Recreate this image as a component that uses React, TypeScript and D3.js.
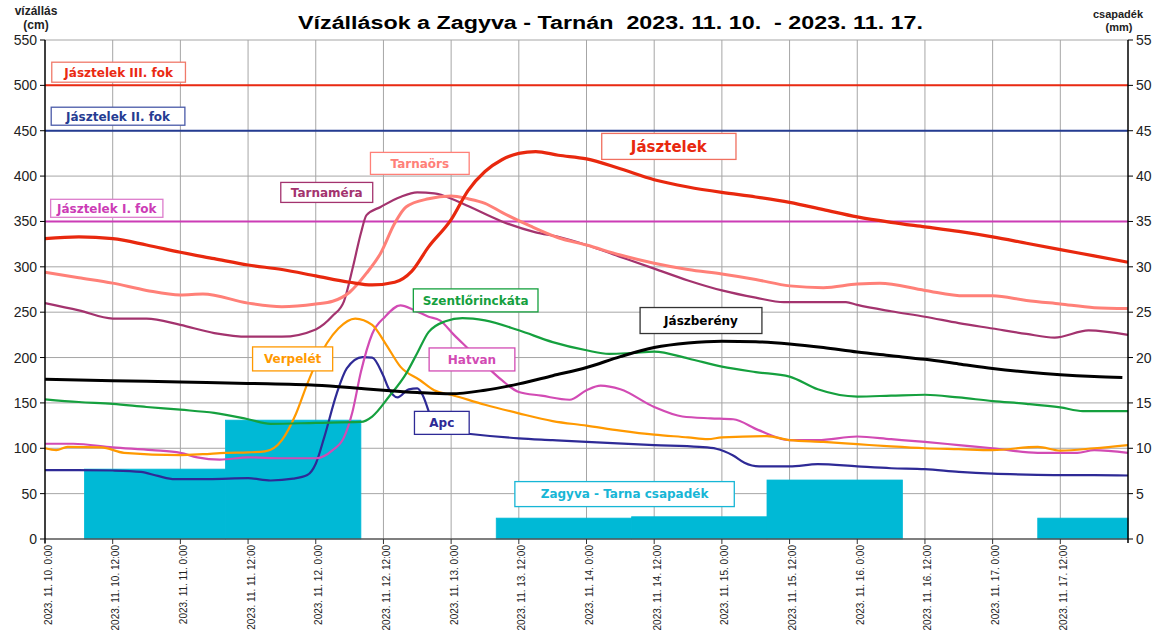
import React, { useRef, useEffect } from "react";
import * as d3 from "d3";

// hours from 2023.11.10 0:00 -> water level (cm)
const jasztelek = [[0,331],[6,333],[12,331],[18,324],[24,316],[30,309],[36,302],[42,297],[48,290],[54,283],[58,280],[62,283],[65,295],[68,322],[72,352],[75,384],[78,405],[81,418],[84,425],[87,427],[91,423],[96,419],[102,408],[108,396],[114,388],[120,382],[126,377],[132,371],[138,363],[144,355],[150,349],[156,344],[162,339],[168,333],[174,326],[180,319],[186,312],[192,305]];
const tarnaors = [[0,294],[6,288],[12,282],[18,274],[24,269],[28,270],[36,260],[42,256],[48,259],[51,262],[54,272],[57,293],[59.5,315],[62,348],[64,366],[68,375],[72,378],[75,375],[78,370],[81,360],[86,345],[91,332],[96,324],[102,313],[108,304],[114,297],[120,292],[126,286],[132,279],[138,277],[144,281],[148,282],[156,274],[163,268],[168,268],[174,263],[180,259],[186,255],[192,254]];
const tarnamera = [[0,260],[6,252],[12,243],[18,243],[24,236],[30,227],[36,223],[42,223],[48,231],[51,246],[53,262],[54.6,300],[56,337],[57,357],[59.5,366],[63,377],[66,382],[69,381],[72.5,374],[75,367],[81,350],[87,338],[91,333],[96,324],[102,311],[108,298],[114,285],[120,274],[126,266],[131,261],[136,261],[142,261],[144,258],[150,251],[156,245],[162,238],[168,232],[174,226],[179,222],[185,230],[192,225]];
const jaszbereny = [[0,176],[12,174.5],[24,173],[36,171.5],[48,169.5],[54,167],[60,164],[66,161.5],[72,160],[78,164],[84,171],[90,180],[96,189],[102,201],[108,211],[114,216],[120,218],[126,217.5],[132,215],[138,211],[144,206],[150,202],[156,198],[162,193],[168,188],[174,184],[180,181],[186,179],[191,178]];
const szentlorinckata = [[0,154],[6,151],[12,149],[18,145.5],[24,142.5],[30,139],[36,132],[40,127],[48,128],[56,129],[58,135],[61,157],[64,182],[66,205],[68,228],[71,240],[74,243.5],[78,241],[84,230],[90,217],[96,208],[100,204],[104,205],[108,206.5],[114,199],[120,190],[126,184],[132,179],[137,165],[144,157],[150,158],[156,159],[162,156],[168,152],[174,149],[180,145],[184,141],[192,141]];
const verpelet = [[0,100],[2,98],[4,101.5],[10,101],[14,95],[24,92.5],[28,93.5],[32,95],[36,95.5],[39,96.5],[42,109],[44.5,138],[46.5,171],[48,193],[50,216],[52,232],[55,243],[58,236],[60.5,214],[63,190],[66.5,175],[69,164],[72,159],[78,148],[84,138.5],[90,130],[96,125],[102,119.5],[108,115],[114,112],[117.5,110],[120,112],[128,113.5],[132,109],[138,107],[144,104.5],[150,102],[156,100],[162,99],[168,98],[176,101.5],[180,97.5],[186,100],[192,103.5]];
const hatvan = [[0,105],[5,105],[12,101],[19,98],[24,95],[27,90],[31,87.5],[36,90],[42,89],[48,89],[51,98],[53,112],[54.5,140],[56,184],[58,226],[60.3,245],[63,257.5],[65.5,252],[68,245],[70,241],[72.5,225],[75,210],[78,192],[81,175],[84,162],[88,158],[93,153.5],[96,164],[98.5,169],[102,165],[108,145.5],[113,135],[118,133],[122,132],[126.5,120],[132,109],[137,109],[144,113],[150,110],[156,107],[162,103.5],[168,100],[176,95],[183,95],[186,98],[192,95]];
const apc = [[0,76],[6,76],[12,75.5],[17,74],[20,69.5],[23,66],[29,66],[36,67],[40,64.5],[44,66.5],[46.5,70.5],[48,83],[49.5,112],[51.7,160],[53.5,188],[56.3,200.5],[58,200],[59.9,181],[61,165],[62.5,156],[64.5,165],[66,166],[67,158],[68.5,133],[70,120],[75,116],[84,111],[90,109],[96,107],[108,103.5],[116,101.5],[119,99.5],[122,92],[124,84],[126.6,80],[132,80],[137,82.5],[144,80],[150,78],[156,77],[162,74],[168,72],[174,71],[180,70.5],[186,70.5],[192,70]];

// daily precipitation (mm): start hour, end hour, value
const rainStart = [7, 32, 80, 104, 128, 176];
const rainEnd = [32, 56, 104, 128, 152, 192];
const rainMm = [7.7, 13.1, 2.3, 2.45, 6.5, 2.3];

const thresholdNames = ["Jásztelek III. fok", "Jásztelek II. fok", "Jásztelek I. fok"];
const thresholdValues = [500, 450, 350];

const startDate = new Date(2023, 10, 10, 0, 0);
const endDate = new Date(2023, 10, 18, 0, 0);
const toDate = (h) => new Date(startDate.getTime() + h * 3600000);

const App = () => {
  const ref = useRef(null);

  useEffect(() => {
    const svg = d3.select(ref.current);
    svg.selectAll("*").remove();

    const left = 45, right = 1128, top = 40, bottom = 539;
    const x = d3.scaleTime().domain([startDate, endDate]).range([left, right]);
    const y = d3.scaleLinear().domain([0, 550]).range([bottom, top]);
    const yR = d3.scaleLinear().domain([0, 55]).range([bottom, top]);
    const xh = (h) => x(toDate(h));

    const grid = svg.append("g");
    grid.selectAll("line.h")
      .data(d3.range(50, 551, 50))
      .join("line")
      .attr("x1", left).attr("x2", right)
      .attr("y1", (d) => y(d)).attr("y2", (d) => y(d))
      .attr("stroke", "#a6a6a6").attr("stroke-width", 1);
    const xTicks = d3.timeHour.every(12).range(startDate, d3.timeHour.offset(endDate, 1));
    grid.selectAll("line.v")
      .data(xTicks.slice(1, -1))
      .join("line")
      .attr("x1", (d) => x(d)).attr("x2", (d) => x(d))
      .attr("y1", top).attr("y2", bottom)
      .attr("stroke", "#a6a6a6").attr("stroke-width", 1);

    // precipitation bars
    svg.append("g")
      .selectAll("rect")
      .data(rainMm.map((v, i) => ({ s: rainStart[i], e: rainEnd[i], v })))
      .join("rect")
      .attr("x", (d) => xh(d.s))
      .attr("width", (d) => xh(d.e) - xh(d.s))
      .attr("y", (d) => yR(d.v))
      .attr("height", (d) => bottom - yR(d.v))
      .attr("fill", "#00b9d6")
      .attr("stroke", "#00b9d6")
      .attr("stroke-width", 0.8);

    // thresholds
    const thrColors = ["#ea2a12", "#253c92", "#cc3cb6"];
    svg.append("g")
      .selectAll("line")
      .data(thresholdValues)
      .join("line")
      .attr("x1", left).attr("x2", right)
      .attr("y1", (d) => y(d)).attr("y2", (d) => y(d))
      .attr("stroke", (d, i) => thrColors[i]).attr("stroke-width", 2);

    const series = [
      { data: apc, color: "#2e2a96", w: 2.2 },
      { data: hatvan, color: "#d24bb4", w: 2.2 },
      { data: verpelet, color: "#ff9900", w: 2.2 },
      { data: szentlorinckata, color: "#15a03e", w: 2.2 },
      { data: jaszbereny, color: "#000000", w: 3 },
      { data: tarnamera, color: "#a3336e", w: 2.2 },
      { data: tarnaors, color: "#ff8078", w: 3 },
      { data: jasztelek, color: "#e8280e", w: 3.2 },
    ];
    const line = d3.line()
      .x((d) => xh(d[0]))
      .y((d) => y(d[1]))
      .curve(d3.curveMonotoneX);
    svg.append("g")
      .selectAll("path")
      .data(series)
      .join("path")
      .attr("d", (d) => line(d.data))
      .attr("fill", "none")
      .attr("stroke", (d) => d.color)
      .attr("stroke-width", (d) => d.w)
      .attr("stroke-linejoin", "round");

    // label boxes: text, from hour, to hour, centre value, colour, border, font size, box height
    const labels = [
      [thresholdNames[0], 1.2, 24.9, 514.5, "#ea2a12", "#f07a6a", 12, 20],
      [thresholdNames[1], 1.1, 24.8, 466, "#253c92", "#4a5aa8", 12, 18],
      [thresholdNames[2], 1.0, 20.9, 364.5, "#cc3cb6", "#dd7ccc", 12, 18],
      ["Tarnaméra", 41.8, 58.1, 382, "#a3336e", "#a3336e", 12, 20],
      ["Tarnaörs", 57.7, 75.2, 414, "#ff8078", "#ff8078", 12, 22],
      ["Jásztelek", 98.7, 122.5, 432.7, "#e8280e", "#f07060", 15, 26],
      ["Szentlőrinckáta", 65.3, 87.4, 263, "#15a03e", "#15a03e", 12, 23],
      ["Jászberény", 105.5, 127.1, 240.8, "#000000", "#333333", 12, 26],
      ["Hatvan", 68.1, 83.3, 197.9, "#d24bb4", "#d24bb4", 12, 23],
      ["Apc", 65.5, 75.2, 128, "#2e2a96", "#2e2a96", 12, 23],
      ["Verpelét", 36.8, 51, 198.5, "#ff9900", "#ff9900", 12, 24],
      ["Zagyva - Tarna csapadék", 83.3, 122.2, 49.5, "#17b6d6", "#17b6d6", 12, 25],
    ];
    const lg = svg.append("g").selectAll("g").data(labels).join("g");
    lg.append("rect")
      .attr("x", (d) => xh(d[1]))
      .attr("width", (d) => xh(d[2]) - xh(d[1]))
      .attr("y", (d) => y(d[3]) - d[7] / 2)
      .attr("height", (d) => d[7])
      .attr("fill", "#fff")
      .attr("stroke", (d) => d[5])
      .attr("stroke-width", 1.3);
    lg.append("text")
      .attr("x", (d) => (xh(d[1]) + xh(d[2])) / 2)
      .attr("y", (d) => y(d[3]))
      .attr("dy", "0.36em")
      .attr("text-anchor", "middle")
      .attr("font-family", "DejaVu Sans, Verdana, sans-serif")
      .attr("font-weight", "bold")
      .attr("font-size", (d) => d[6])
      .attr("fill", (d) => d[4])
      .text((d) => d[0]);

    // axes
    const axes = svg.append("g").attr("font-family", "Liberation Sans, Arial, sans-serif");
    axes.append("line").attr("x1", left).attr("x2", right).attr("y1", bottom).attr("y2", bottom)
      .attr("stroke", "#555").attr("stroke-width", 1.5);
    axes.append("line").attr("x1", left).attr("x2", left).attr("y1", top).attr("y2", bottom + 4)
      .attr("stroke", "#000").attr("stroke-width", 1.5);
    axes.append("line").attr("x1", right).attr("x2", right).attr("y1", top).attr("y2", bottom + 4)
      .attr("stroke", "#000").attr("stroke-width", 1.5);

    const yt = axes.append("g").selectAll("g").data(d3.range(0, 551, 50)).join("g");
    yt.append("line").attr("x1", left - 5).attr("x2", left).attr("y1", (d) => y(d)).attr("y2", (d) => y(d)).attr("stroke", "#000");
    yt.append("text").attr("x", left - 8).attr("y", (d) => y(d)).attr("dy", "0.36em")
      .attr("text-anchor", "end").attr("font-size", 14).attr("fill", "#222").text((d) => d);

    const yrt = axes.append("g").selectAll("g").data(d3.range(0, 56, 5)).join("g");
    yrt.append("line").attr("x1", right).attr("x2", right + 5).attr("y1", (d) => yR(d)).attr("y2", (d) => yR(d)).attr("stroke", "#000");
    yrt.append("text").attr("x", right + 8).attr("y", (d) => yR(d)).attr("dy", "0.36em")
      .attr("font-size", 14).attr("fill", "#222").text((d) => d);

    const fmt = d3.timeFormat("%Y. %m. %d. %-H:%M");
    const xt = axes.append("g").selectAll("g").data(xTicks.slice(0, -1)).join("g");
    xt.append("line").attr("x1", (d) => x(d)).attr("x2", (d) => x(d)).attr("y1", bottom).attr("y2", bottom + 5).attr("stroke", "#333");
    xt.filter((d, i) => i < 16).append("text")
      .attr("transform", (d) => `translate(${x(d) + 3},${bottom + 6}) rotate(-90)`)
      .attr("text-anchor", "end")
      .attr("dy", "0.35em")
      .attr("font-size", 10)
      .attr("fill", "#222")
      .text((d) => fmt(d));

    // titles
    svg.append("text").attr("x", 610.5).attr("y", 29)
      .attr("text-anchor", "middle")
      .attr("font-family", "Liberation Sans, Arial, sans-serif")
      .attr("font-weight", "bold").attr("font-size", 18)
      .attr("textLength", 625).attr("lengthAdjust", "spacingAndGlyphs")
      .style("white-space", "pre")
      .text("Vízállások a Zagyva - Tarnán  2023. 11. 10.  - 2023. 11. 17.");
    const ax = svg.append("g").attr("font-family", "Liberation Sans, Arial, sans-serif")
      .attr("font-weight", "bold").attr("font-size", 12).attr("text-anchor", "middle").attr("fill", "#222");
    ax.append("text").attr("x", 36).attr("y", 15).text("vízállás");
    ax.append("text").attr("x", 36).attr("y", 29).text("(cm)");
    ax.append("text").attr("x", 1118).attr("y", 18).attr("font-size", 11).text("csapadék");
    ax.append("text").attr("x", 1119).attr("y", 31).attr("font-size", 11).text("(mm)");
  }, []);

  return (
    <svg
      ref={ref}
      width={1164}
      height={634}
      style={{ position: "absolute", left: 0, top: 0, background: "#fff" }}
    ></svg>
  );
};

export default App;
